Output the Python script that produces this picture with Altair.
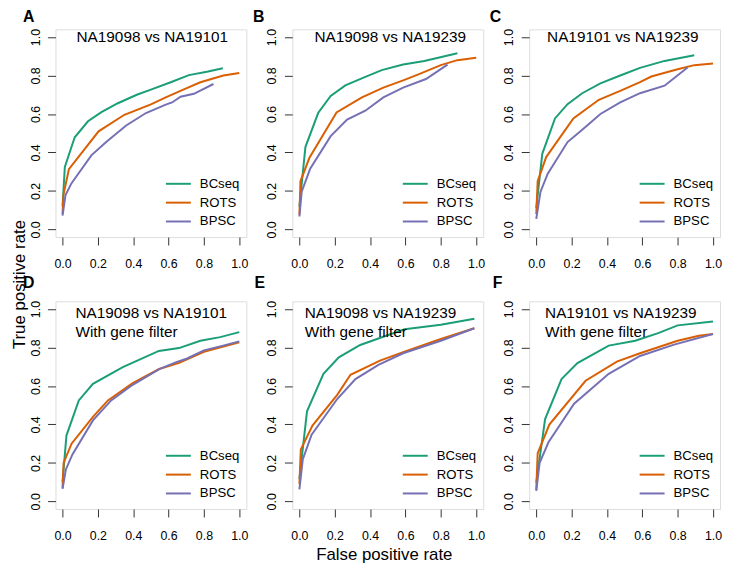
import altair as alt
import pandas as pd

# ---- data (false positive rate / true positive rate) ----
methods = ["BCseq", "ROTS", "BPSC"]
colors = ["#1B9E77", "#D95F02", "#7570B3"]
tick_values = [0.0, 0.2, 0.4, 0.6, 0.8, 1.0]

a_bcseq_x = [0.0, 0.013, 0.069, 0.144, 0.22, 0.313, 0.42, 0.5, 0.612, 0.715, 0.817, 0.907]
a_bcseq_y = [0.12, 0.325, 0.479, 0.562, 0.61, 0.656, 0.70, 0.727, 0.765, 0.802, 0.82, 0.838]
a_rots_x = [0.0, 0.005, 0.036, 0.204, 0.35, 0.5, 0.584, 0.68, 0.78, 0.91, 1.0]
a_rots_y = [0.08, 0.18, 0.313, 0.51, 0.596, 0.65, 0.686, 0.725, 0.765, 0.80, 0.813]
a_bpsc_x = [0.0, 0.017, 0.05, 0.163, 0.247, 0.36, 0.472, 0.584, 0.62, 0.668, 0.743, 0.854]
a_bpsc_y = [0.072, 0.179, 0.239, 0.385, 0.454, 0.54, 0.605, 0.649, 0.66, 0.69, 0.705, 0.756]

b_bcseq_x = [0.0, 0.034, 0.106, 0.177, 0.26, 0.363, 0.466, 0.587, 0.707, 0.894]
b_bcseq_y = [0.118, 0.428, 0.605, 0.694, 0.749, 0.789, 0.828, 0.857, 0.876, 0.916]
b_rots_x = [0.0, 0.006, 0.056, 0.21, 0.354, 0.475, 0.587, 0.67, 0.80, 0.894, 1.0]
b_rots_y = [0.076, 0.25, 0.371, 0.608, 0.686, 0.737, 0.775, 0.805, 0.854, 0.88, 0.893]
b_bpsc_x = [0.0, 0.013, 0.061, 0.177, 0.27, 0.373, 0.475, 0.587, 0.716, 0.838]
b_bpsc_y = [0.067, 0.196, 0.316, 0.485, 0.571, 0.617, 0.686, 0.737, 0.782, 0.857]

c_bcseq_x = [0.0, 0.034, 0.106, 0.177, 0.26, 0.363, 0.475, 0.587, 0.726, 0.894]
c_bcseq_y = [0.11, 0.393, 0.577, 0.651, 0.708, 0.759, 0.80, 0.84, 0.876, 0.905]
c_rots_x = [0.0, 0.008, 0.056, 0.21, 0.354, 0.475, 0.587, 0.651, 0.80, 0.894, 1.0]
c_rots_y = [0.08, 0.25, 0.376, 0.577, 0.674, 0.72, 0.766, 0.795, 0.833, 0.854, 0.862]
c_bpsc_x = [0.0, 0.024, 0.065, 0.177, 0.27, 0.363, 0.475, 0.587, 0.726, 0.856]
c_bpsc_y = [0.055, 0.196, 0.29, 0.454, 0.526, 0.60, 0.66, 0.708, 0.747, 0.842]

d_bcseq_x = [0.0, 0.022, 0.092, 0.172, 0.341, 0.545, 0.659, 0.78, 0.892, 1.0]
d_bcseq_y = [0.1, 0.342, 0.525, 0.611, 0.698, 0.782, 0.797, 0.835, 0.854, 0.88]
d_rots_x = [0.0, 0.006, 0.051, 0.172, 0.257, 0.397, 0.547, 0.66, 0.80, 1.0]
d_rots_y = [0.07, 0.2, 0.30, 0.439, 0.525, 0.615, 0.688, 0.72, 0.778, 0.827]
d_bpsc_x = [0.0, 0.019, 0.056, 0.172, 0.275, 0.397, 0.547, 0.64, 0.705, 0.80, 0.892, 1.0]
d_bpsc_y = [0.065, 0.166, 0.244, 0.421, 0.525, 0.606, 0.688, 0.723, 0.743, 0.785, 0.806, 0.832]

e_bcseq_x = [0.0, 0.043, 0.136, 0.223, 0.344, 0.475, 0.595, 0.80, 0.99]
e_bcseq_y = [0.117, 0.468, 0.663, 0.749, 0.813, 0.856, 0.895, 0.918, 0.95]
e_rots_x = [0.0, 0.008, 0.074, 0.214, 0.289, 0.456, 0.587, 0.80, 0.99]
e_rots_y = [0.09, 0.27, 0.394, 0.554, 0.658, 0.732, 0.776, 0.844, 0.90]
e_bpsc_x = [0.0, 0.019, 0.069, 0.214, 0.317, 0.447, 0.587, 0.80, 0.99]
e_bpsc_y = [0.062, 0.218, 0.347, 0.532, 0.636, 0.71, 0.77, 0.835, 0.90]

f_bcseq_x = [0.0, 0.05, 0.143, 0.233, 0.41, 0.56, 0.69, 0.80, 1.0]
f_bcseq_y = [0.097, 0.428, 0.636, 0.719, 0.81, 0.835, 0.875, 0.915, 0.935]
f_rots_x = [0.0, 0.008, 0.074, 0.279, 0.456, 0.587, 0.80, 0.92, 1.0]
f_rots_y = [0.06, 0.25, 0.399, 0.627, 0.727, 0.77, 0.835, 0.861, 0.87]
f_bpsc_x = [0.0, 0.019, 0.069, 0.214, 0.41, 0.587, 0.78, 1.0]
f_bpsc_y = [0.055, 0.2, 0.307, 0.508, 0.663, 0.756, 0.815, 0.87]

panel_keys = ["A", "B", "C", "D", "E", "F"]
panel_titles = [
    ["NA19098 vs NA19101"],
    ["NA19098 vs NA19239"],
    ["NA19101 vs NA19239"],
    ["NA19098 vs NA19101", "With gene filter"],
    ["NA19098 vs NA19239", "With gene filter"],
    ["NA19101 vs NA19239", "With gene filter"],
]
legend_y = [0.237, 0.139, 0.041]

curves = {
    "A": [(a_bcseq_x, a_bcseq_y), (a_rots_x, a_rots_y), (a_bpsc_x, a_bpsc_y)],
    "B": [(b_bcseq_x, b_bcseq_y), (b_rots_x, b_rots_y), (b_bpsc_x, b_bpsc_y)],
    "C": [(c_bcseq_x, c_bcseq_y), (c_rots_x, c_rots_y), (c_bpsc_x, c_bpsc_y)],
    "D": [(d_bcseq_x, d_bcseq_y), (d_rots_x, d_rots_y), (d_bpsc_x, d_bpsc_y)],
    "E": [(e_bcseq_x, e_bcseq_y), (e_rots_x, e_rots_y), (e_bpsc_x, e_bpsc_y)],
    "F": [(f_bcseq_x, f_bcseq_y), (f_rots_x, f_rots_y), (f_bpsc_x, f_bpsc_y)],
}

# ---- layout / style ----
FONT = "Liberation Sans"
W, H = 193, 210
title_pos = {  # x (data), align, y of first line
    "A": (0.508, "center", 0.998), "B": (0.514, "center", 0.998), "C": (0.49, "center", 0.998),
    "D": (0.073, "left", 0.978), "E": (0.03, "left", 0.978), "F": (0.05, "left", 0.978),
}
label_off = {"A": (-27, -12.5), "B": (-34, -12.5), "C": (-34, -12.5),
             "D": (-27, -18), "E": (-33, -18), "F": (-32, -18)}

xs = alt.Scale(domain=[-0.04, 1.04], nice=False, zero=False)
ys = alt.Scale(domain=[-0.04, 1.04], nice=False, zero=False)
cs = alt.Scale(domain=methods, range=colors)

xaxis = alt.Axis(title="", values=tick_values, format=".1f", tickSize=8, grid=False,
                 domain=False, tickColor="#333333", labelColor="black", labelFont=FONT,
                 labelPadding=13, labelBaseline="top", labelFontSize=12.5)
yaxis = alt.Axis(title="", values=tick_values, format=".1f", tickSize=8, grid=False,
                 domain=False, tickColor="#333333", labelColor="black", labelFont=FONT,
                 labelAngle=270, labelAlign="center", labelBaseline="alphabetic",
                 labelPadding=8.6, labelFontSize=12.5)


def make_panel(idx):
    key = panel_keys[idx]
    rows = []
    for m, (xv, yv) in zip(methods, curves[key]):
        for i, (xx, yy) in enumerate(zip(xv, yv)):
            rows.append({"method": m, "fpr": xx, "tpr": yy, "i": i})
    df = pd.DataFrame(rows)

    X = lambda f: alt.X(f, scale=xs, axis=xaxis)
    Y = lambda f: alt.Y(f, scale=ys, axis=yaxis)

    lines = alt.Chart(df).mark_line(strokeWidth=2).encode(
        x=X("fpr:Q"), y=Y("tpr:Q"),
        color=alt.Color("method:N", scale=cs, legend=None),
        order="i:Q",
    )

    leg = pd.DataFrame({"method": methods, "x1": [0.585] * 3, "x2": [0.726] * 3,
                        "tx": [0.777] * 3, "y": legend_y})
    leg_lines = alt.Chart(leg).mark_rule(strokeWidth=2).encode(
        x=X("x1:Q"), x2="x2:Q", y=Y("y:Q"),
        color=alt.Color("method:N", scale=cs, legend=None),
    )
    leg_text = alt.Chart(leg).mark_text(align="left", baseline="middle", font=FONT,
                                        fontSize=13.3, color="black").encode(
        x=X("tx:Q"), y=Y("y:Q"), text="method:N"
    )

    tx, talign, ty = title_pos[key]
    tl = panel_titles[idx]
    tdf = pd.DataFrame({"t": tl, "x": [tx] * len(tl), "y": [ty - 0.096 * k for k in range(len(tl))]})
    titles = alt.Chart(tdf).mark_text(align=talign, baseline="middle", font=FONT,
                                      fontSize=15.5, color="black").encode(
        x=X("x:Q"), y=Y("y:Q"), text="t:N"
    )

    lx, ly = label_off[key]
    lab = alt.Chart(pd.DataFrame({"t": [key]})).mark_text(
        font=FONT, fontSize=16, fontWeight="bold", align="center", baseline="middle",
        color="black").encode(x=alt.value(lx), y=alt.value(ly), text="t:N")

    layers = [lines, leg_lines, leg_text, titles, lab]
    if key == "E":
        layers.append(alt.Chart(pd.DataFrame({"t": ["False positive rate"]})).mark_text(
            font=FONT, fontSize=17, align="center", baseline="middle", color="black"
        ).encode(x=alt.value(93), y=alt.value(257), text="t:N"))
    if key == "D":
        layers.append(alt.Chart(pd.DataFrame({"t": ["True positive rate"]})).mark_text(
            font=FONT, fontSize=17, align="center", baseline="middle", angle=270,
            color="black").encode(x=alt.value(-35.5), y=alt.value(-17), text="t:N"))
    return alt.layer(*layers).properties(width=W, height=H)


panels = [make_panel(i) for i in range(6)]
chart = alt.concat(*panels, columns=3, spacing={"row": 65, "column": 46.5},
                   bounds="flush").properties(
    padding={"left": 2, "top": -2.5, "right": 3, "bottom": 0}
).configure_view(
    stroke="#333333", strokeWidth=1
).configure(background="white")

chart.save("out.html", embed_options={"renderer": "svg", "actions": False})
